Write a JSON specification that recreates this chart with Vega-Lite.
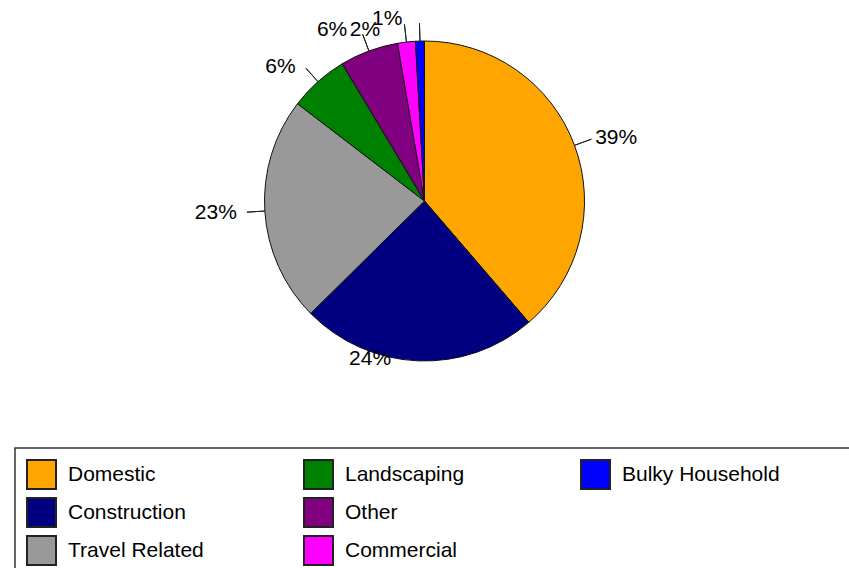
{
  "$schema": "https://vega.github.io/schema/vega-lite/v6.json",
  "width": 849,
  "height": 402,
  "padding": 0,
  "background": "white",
  "config": {"view": {"stroke": null}, "text": {"font": "Liberation Sans"}},
  "datasets": {
    "d": [
      {"cat": "Domestic", "share": 0.387, "idx": 1},
      {"cat": "Construction", "share": 0.239, "idx": 2},
      {"cat": "Travel Related", "share": 0.228, "idx": 3},
      {"cat": "Landscaping", "share": 0.060, "idx": 4},
      {"cat": "Other", "share": 0.059, "idx": 5},
      {"cat": "Commercial", "share": 0.018, "idx": 6},
      {"cat": "Bulky Household", "share": 0.009, "idx": 7}
    ]
  },
  "layer": [
    {
      "data": {"name": "d"},
      "mark": {"type": "arc", "outerRadius": 160, "stroke": "#111", "strokeWidth": 1},
      "encoding": {
        "theta": {"field": "share", "type": "quantitative", "stack": true, "scale": {"domain": [0, 1]}},
        "order": {"field": "idx", "type": "quantitative", "sort": "ascending"},
        "color": {
          "field": "cat",
          "type": "nominal",
          "scale": {
            "domain": ["Domestic", "Construction", "Travel Related", "Landscaping", "Other", "Commercial", "Bulky Household", " "],
            "range": ["#FFA500", "#000080", "#999999", "#008000", "#800080", "#FF00FF", "#0000FF", "#FFFFFF"]
          },
          "legend": {
            "orient": "none",
            "legendX": 15,
            "legendY": 448,
            "columns": 3,
            "gridAlign": "all",
            "columnPadding": 74,
            "rowPadding": 1,
            "padding": 11,
            "strokeColor": "#333",
            "fillColor": "white",
            "symbolType": "square",
            "symbolSize": 841,
            "symbolStrokeWidth": 2,
            "symbolStrokeColor": "#222",
            "labelFont": "Liberation Sans",
            "labelFontSize": 21,
            "labelColor": "#000",
            "labelOffset": 11,
            "labelLimit": 300,
            "title": " ",
            "titleOrient": "right",
            "titlePadding": 70,
            "titleFontSize": 5,
            "encode": {
              "legend": {"update": {"strokeWidth": {"value": 1.5}}},
              "symbols": {"update": {"opacity": {"signal": "datum.value === ' ' ? 0 : 1"}}}
            }
          }
        }
      }
    },
    {
      "data": {"name": "d"},
      "transform": [
        {"stack": "share", "groupby": [], "sort": [{"field": "idx", "order": "ascending"}], "as": ["s0", "s1"]},
        {"fold": ["s0", "s1"], "as": ["edge", "pos"]},
        {"aggregate": [{"op": "mean", "field": "pos", "as": "mid"}], "groupby": ["cat", "share"]}
      ],
      "layer": [
        {
          "transform": [{"filter": "datum.cat !== 'Construction'"}],
          "mark": {"type": "arc", "radius": 178, "radius2": 160, "fillOpacity": 0, "stroke": "#222", "strokeWidth": 1},
          "encoding": {
            "theta": {"field": "mid", "type": "quantitative", "stack": null, "scale": {"domain": [0, 1]}},
            "theta2": {"field": "mid"}
          }
        },
        {
          "transform": [{"filter": "datum.cat === 'Domestic'"}],
          "mark": {"type": "text", "radius": 182, "align": "left", "baseline": "middle", "fontSize": 21, "color": "#000"},
          "encoding": {
            "theta": {"field": "mid", "type": "quantitative", "stack": null, "scale": {"domain": [0, 1]}},
            "text": {"field": "share", "type": "quantitative", "format": ".0%"}
          }
        },
        {
          "transform": [{"filter": "datum.cat === 'Construction'"}],
          "mark": {"type": "text", "radius": 158, "align": "center", "baseline": "middle", "fontSize": 21, "color": "#000", "dx": -48},
          "encoding": {
            "theta": {"field": "mid", "type": "quantitative", "stack": null, "scale": {"domain": [0, 1]}},
            "text": {"field": "share", "type": "quantitative", "format": ".0%"}
          }
        },
        {
          "transform": [{"filter": "datum.cat === 'Travel Related'"}],
          "mark": {"type": "text", "radius": 188, "align": "right", "baseline": "middle", "fontSize": 21, "color": "#000"},
          "encoding": {
            "theta": {"field": "mid", "type": "quantitative", "stack": null, "scale": {"domain": [0, 1]}},
            "text": {"field": "share", "type": "quantitative", "format": ".0%"}
          }
        },
        {
          "transform": [{"filter": "datum.cat === 'Landscaping'"}],
          "mark": {"type": "text", "radius": 180, "align": "right", "baseline": "middle", "fontSize": 21, "color": "#000", "dx": -9},
          "encoding": {
            "theta": {"field": "mid", "type": "quantitative", "stack": null, "scale": {"domain": [0, 1]}},
            "text": {"field": "share", "type": "quantitative", "format": ".0%"}
          }
        },
        {
          "transform": [{"filter": "datum.cat === 'Other'"}],
          "mark": {"type": "text", "radius": 182, "align": "right", "baseline": "middle", "fontSize": 21, "color": "#000", "dx": -14},
          "encoding": {
            "theta": {"field": "mid", "type": "quantitative", "stack": null, "scale": {"domain": [0, 1]}},
            "text": {"field": "share", "type": "quantitative", "format": ".0%"}
          }
        },
        {
          "transform": [{"filter": "datum.cat === 'Commercial'"}],
          "mark": {"type": "text", "radius": 172, "align": "right", "baseline": "middle", "fontSize": 21, "color": "#000", "dx": -25},
          "encoding": {
            "theta": {"field": "mid", "type": "quantitative", "stack": null, "scale": {"domain": [0, 1]}},
            "text": {"field": "share", "type": "quantitative", "format": ".0%"}
          }
        },
        {
          "transform": [{"filter": "datum.cat === 'Bulky Household'"}],
          "mark": {"type": "text", "radius": 182, "align": "right", "baseline": "middle", "fontSize": 21, "color": "#000", "dx": -17},
          "encoding": {
            "theta": {"field": "mid", "type": "quantitative", "stack": null, "scale": {"domain": [0, 1]}},
            "text": {"field": "share", "type": "quantitative", "format": ".0%"}
          }
        }
      ]
    }
  ]
}
